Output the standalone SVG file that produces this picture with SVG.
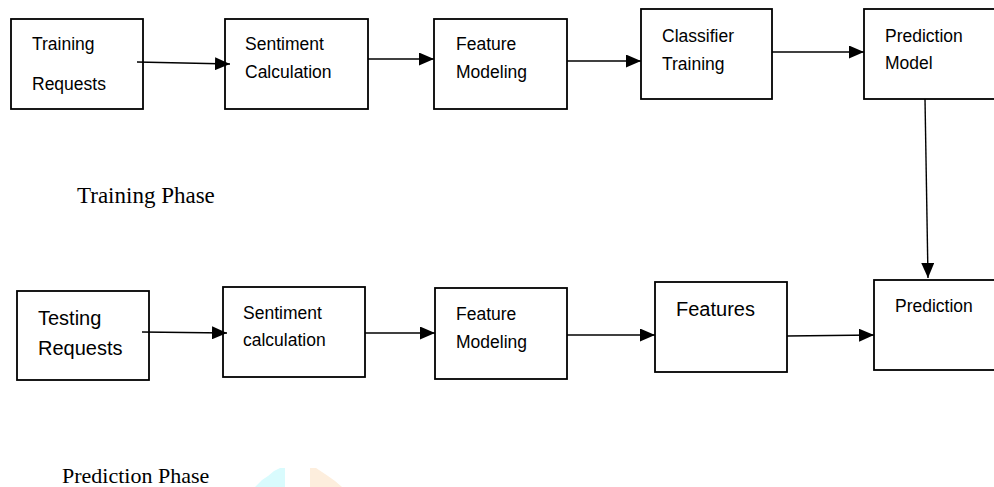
<svg xmlns="http://www.w3.org/2000/svg" width="994" height="487" viewBox="0 0 994 487">
<style>
.box{fill:#fff;stroke:#000;stroke-width:1.8}
.t{font-family:"Liberation Sans",Arial,sans-serif;font-size:17.5px;fill:#000}
.tb{font-family:"Liberation Sans",Arial,sans-serif;font-size:20px;fill:#000}
.ph{font-family:"Liberation Serif","Times New Roman",serif;font-size:22px;fill:#000}
.c{stroke:#000;stroke-width:1.4;fill:none;marker-end:url(#ah)}
</style>
<defs>
<marker id="ah" markerUnits="userSpaceOnUse" markerWidth="15" markerHeight="13" refX="15" refY="6.5" orient="auto">
<path d="M0,0 L15,6.5 L0,13 z" fill="#000"/>
</marker>
</defs>
<rect width="994" height="487" fill="#fff"/>
<g id="n1"><rect class="box" x="11" y="19" width="132" height="90"/><text class="t" x="32" y="50">Training</text><text class="t" x="32" y="90">Requests</text></g>
<g id="n2"><rect class="box" x="225" y="19" width="143" height="90"/><text class="t" x="245" y="50">Sentiment</text><text class="t" x="245" y="78">Calculation</text></g>
<g id="n3"><rect class="box" x="434" y="19" width="133" height="90"/><text class="t" x="456" y="50">Feature</text><text class="t" x="456" y="78">Modeling</text></g>
<g id="n4"><rect class="box" x="641" y="9" width="131" height="90"/><text class="t" x="662" y="42">Classifier</text><text class="t" x="662" y="70">Training</text></g>
<g id="n5"><rect class="box" x="864" y="9" width="140" height="90"/><text class="t" x="885" y="42">Prediction</text><text class="t" x="885" y="69">Model</text></g>
<g id="n6"><rect class="box" x="17" y="291" width="132" height="89"/><text class="tb" x="38" y="325">Testing</text><text class="tb" x="38" y="355">Requests</text></g>
<g id="n7"><rect class="box" x="223" y="287" width="142" height="90"/><text class="t" x="243" y="319">Sentiment</text><text class="t" x="243" y="346">calculation</text></g>
<g id="n8"><rect class="box" x="435" y="288" width="132" height="91"/><text class="t" x="456" y="320">Feature</text><text class="t" x="456" y="348">Modeling</text></g>
<g id="n9"><rect class="box" x="655" y="282" width="132" height="90"/><text class="tb" x="676" y="316">Features</text></g>
<g id="n10"><rect class="box" x="874" y="280" width="130" height="90"/><text class="t" x="895" y="312">Prediction</text></g>
<g id="connectors">
<line class="c" x1="137" y1="62" x2="230" y2="64"/>
<line class="c" x1="368" y1="59" x2="434" y2="59"/>
<line class="c" x1="567" y1="61" x2="641" y2="61"/>
<line class="c" x1="772" y1="52" x2="864" y2="52"/>
<line class="c" x1="925" y1="99" x2="928" y2="278"/>
<line class="c" x1="142" y1="332" x2="227" y2="333"/>
<line class="c" x1="365" y1="333" x2="435" y2="333"/>
<line class="c" x1="567" y1="335" x2="655" y2="335"/>
<line class="c" x1="787" y1="336" x2="874" y2="335"/>
</g>
<text class="ph" x="77" y="203" style="font-size:23px">Training Phase</text>
<text class="ph" x="62" y="483">Prediction Phase</text>
<polygon points="255,487 262,480 268,476 274,471 280,468 285,468 285,487" fill="#d9fbfd"/>
<polygon points="310,468 316,468 322,472 328,476 335,481 342,487 310,487" fill="#fdeedd"/>
</svg>
